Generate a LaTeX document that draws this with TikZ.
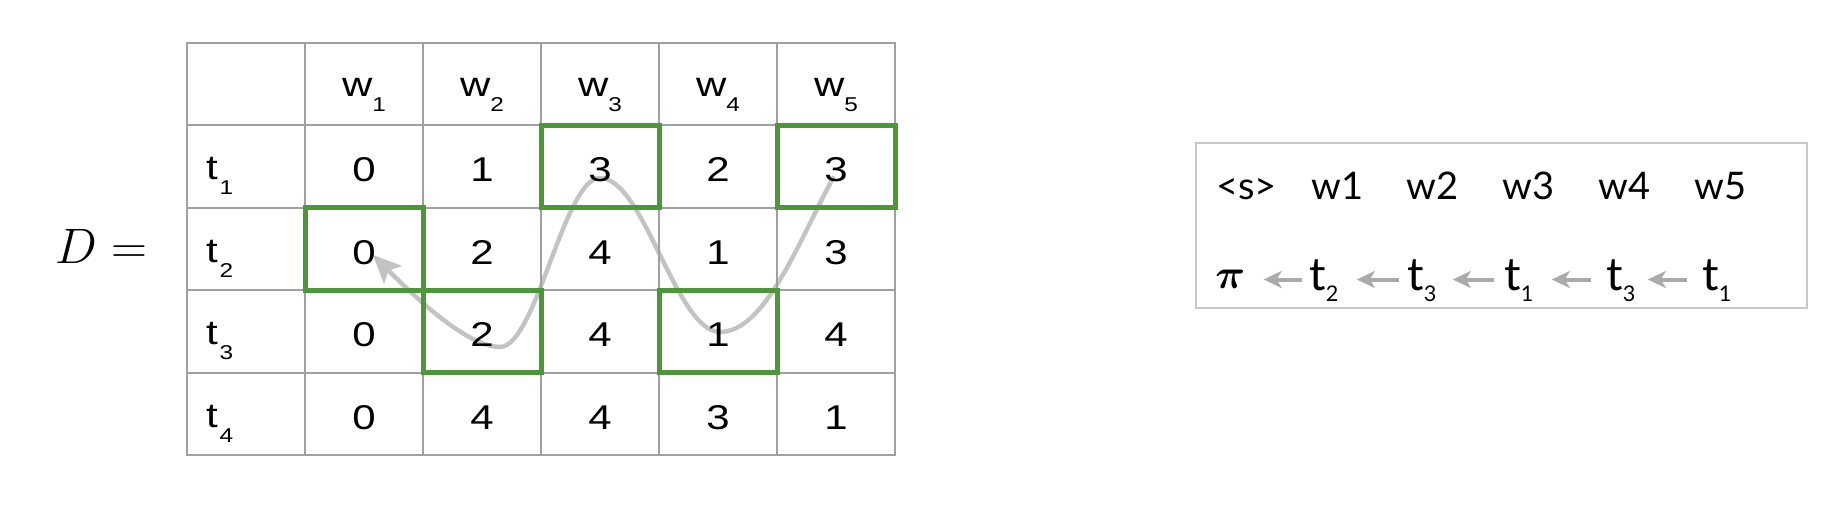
\documentclass[tikz,border=0pt]{standalone}
\usepackage[no-math]{fontspec}
\usepackage{bm}
\setmainfont{Liberation Sans}
\newfontfamily\tabfont[FakeStretch=1.22]{Liberation Sans}
\newfontfamily\latofont{Lato}
\usetikzlibrary{arrows.meta}
\pgfdeclarelayer{background}
\pgfsetlayers{background,main}
\definecolor{gridgray}{RGB}{160,160,160}
\definecolor{boxgreen}{RGB}{78,150,58}
\definecolor{curvegray}{RGB}{195,195,195}
\definecolor{arrowgray}{RGB}{170,170,170}
\definecolor{framegray}{RGB}{200,200,200}
\newcommand\tsub[1]{\raisebox{-7.5pt}{\fontsize{10}{11}\selectfont #1}}
\newcommand\lsub[1]{\raisebox{-5.85pt}{\fontsize{10.8}{12}\selectfont #1}}
\begin{document}
\begin{tikzpicture}[x=0.5pt,y=-0.5pt,
  cell/.style={draw=gridgray, line width=1pt, minimum width=59pt, minimum height=41.25pt,
    inner sep=0pt, outer sep=0pt, font=\tabfont\fontsize{17.2}{20}\selectfont,
    text height=15.4pt, text depth=0pt},
  headcell/.style={cell, text height=12.7pt},
  rowcell/.style={cell, inner xsep=9.5pt, text width=40pt, align=left, text height=13.5pt},
  greenbox/.style={draw=boxgreen, line width=2.5pt},
  curve/.style={draw=curvegray, line width=2.2pt, line cap=round,
    -{Stealth[length=14pt,width=12.5pt,inset=3pt]}},
  ltxt/.style={anchor=base west, inner sep=0pt, font=\latofont\fontsize{19}{22}\selectfont},
  ttxt/.style={anchor=base west, inner sep=0pt, font=\latofont\fontsize{23}{26}\selectfont},
  parrow/.style={draw=arrowgray, line width=2pt,
    -{Stealth[length=9pt,width=8.5pt,inset=2.5pt]}},
  frame/.style={draw=framegray, line width=1pt, inner sep=0pt, outer sep=0pt,
    minimum width=305.5pt, minimum height=82.5pt}
]
\useasboundingbox (0,0) rectangle (1848,514);

% D =
\node[anchor=base west, inner sep=0pt, font=\fontsize{30}{33}\selectfont] (dlabel) at (55,263) {$D =$};

% table
\node[cell] (c00) at (246,84) {};
\foreach \c in {1,...,5}
  \node[headcell] (c0\c) at ({187+118*(\c+0.5)},84) {w\tsub{\c}};
\foreach \r in {1,...,4}
  \node[rowcell] (c\r0) at (246,{42.7+82.5*(\r+0.5)}) {t\kern1pt\tsub{\r}};
\foreach \v [count=\c] in {0,1,3,2,3}
  \node[cell] (c1\c) at ({187+118*(\c+0.5)},{42.7+82.5*1.5}) {\v};
\foreach \v [count=\c] in {0,2,4,1,3}
  \node[cell] (c2\c) at ({187+118*(\c+0.5)},{42.7+82.5*2.5}) {\v};
\foreach \v [count=\c] in {0,2,4,1,4}
  \node[cell] (c3\c) at ({187+118*(\c+0.5)},{42.7+82.5*3.5}) {\v};
\foreach \v [count=\c] in {0,4,4,3,1}
  \node[cell] (c4\c) at ({187+118*(\c+0.5)},{42.7+82.5*4.5}) {\v};

% path through the chosen cells
\begin{pgfonlayer}{background}
\draw[curve] ([shift={(-3,11.5)}]c15.center)
  .. controls +(-35,65) and +(45,0) .. ([shift={(2,0.5)}]c34.center)
  .. controls +(-44,0) and +(44,0) .. ([shift={(0,11.5)}]c13.center)
  .. controls +(-36,0) and +(36,0) .. ([shift={(18,15.5)}]c32.center)
  .. controls +(-35,0) and +(35,35) .. ([shift={(9,6)}]c21.center);
\end{pgfonlayer}

% green boxes
\foreach \n in {c13,c15,c21,c32,c34}
  \draw[greenbox] (\n.north west) rectangle (\n.south east);

% right box
\node[frame] (sbox) at (1501.5,225.5) {};
\node[ltxt] (s0) at (1216,199) {<s>};
\node[ltxt] (s1) at (1311,199) {w1};
\node[ltxt] (s2) at (1406,199) {w2};
\node[ltxt] (s3) at (1502,199) {w3};
\node[ltxt] (s4) at (1598,199) {w4};
\node[ltxt] (s5) at (1694,199) {w5};

\node[anchor=base west, inner sep=0pt, font=\fontsize{20}{22}\selectfont] (p0) at (1215,288) {$\bm{\pi}$};
\node[ttxt] (q1) at (1309,290) {t\lsub{2}};
\node[ttxt] (q2) at (1407,290) {t\lsub{3}};
\node[ttxt] (q3) at (1504,290) {t\lsub{1}};
\node[ttxt] (q4) at (1606,290) {t\lsub{3}};
\node[ttxt] (q5) at (1702,290) {t\lsub{1}};

\draw[parrow, shorten <=3.5pt, shorten >=9pt] ([yshift=5.25pt]q1.base west) -- ([yshift=5.25pt]q1.base west -| p0.east);
\draw[parrow, shorten <=4pt, shorten >=9pt] ([yshift=5.25pt]q2.base west) -- ([yshift=5.25pt]q1.base east);
\draw[parrow, shorten <=5pt, shorten >=8pt] ([yshift=5.25pt]q3.base west) -- ([yshift=5.25pt]q2.base east);
\draw[parrow, shorten <=7.5pt, shorten >=9pt] ([yshift=5.25pt]q4.base west) -- ([yshift=5.25pt]q3.base east);
\draw[parrow, shorten <=7.5pt, shorten >=6pt] ([yshift=5.25pt]q5.base west) -- ([yshift=5.25pt]q4.base east);
\end{tikzpicture}
\end{document}
